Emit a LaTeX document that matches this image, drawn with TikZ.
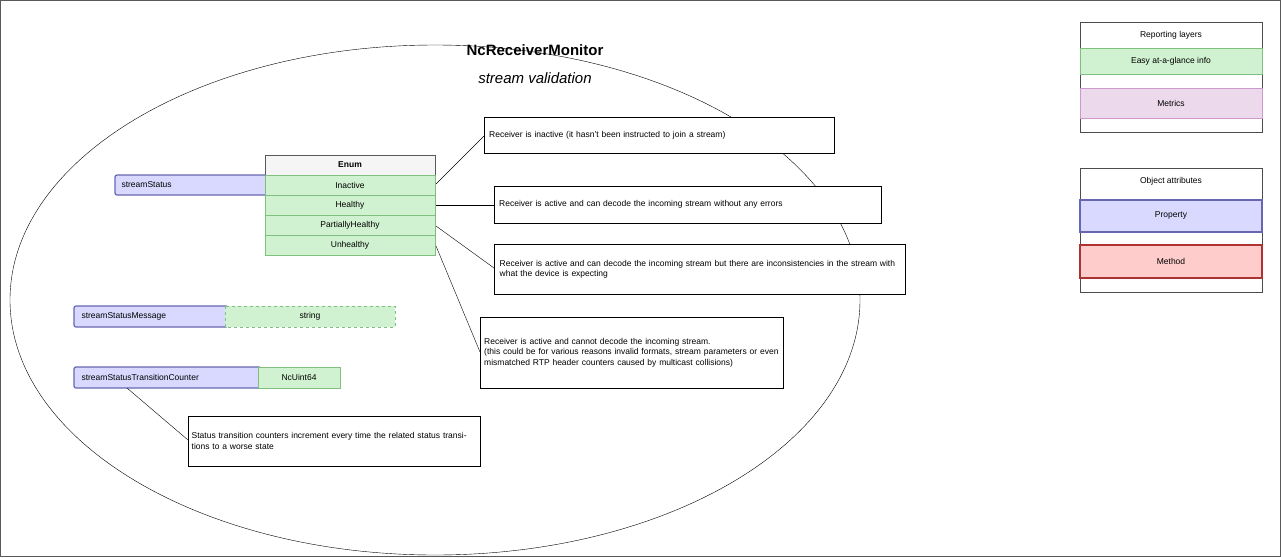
\documentclass[tikz,border=0pt]{standalone}
\usepackage{fontspec}
\setmainfont{Liberation Sans}
\begin{document}
\begin{tikzpicture}[x=1pt,y=-1pt,
  txt/.style={font=\fontsize{8.5}{10.5}\selectfont},
  prop/.style={draw=blue!50!black!60!white,line width=1.2pt,fill=blue!15,rounded corners=2pt},
  green/.style={draw=green!50!black!50!white,fill=green!15!white!90!gray},
  call/.style={draw=black,fill=white,txt,align=left,anchor=north west,inner sep=3pt}]
\useasboundingbox (0,0) rectangle (1281,557);
\draw[gray!70!black] (0.5,0.5) rectangle (1280.5,556.5);
\draw (435,300) ellipse [x radius=425, y radius=255];
\node[font=\bfseries\fontsize{15}{18}\selectfont] (t1) at (535,50) {NcReceiverMonitor};
\node[font=\itshape\fontsize{15}{18}\selectfont] (t2) at (535,78) {stream validation};
% streamStatus
\draw[prop] (115,175) rectangle (268,195);
\node[txt,anchor=west] (ss) at (118,185) {streamStatus};
\draw[gray!70!black,fill=gray!8] (265,155) rectangle (435,175);
\node[txt,font=\bfseries\fontsize{8.5}{10.5}\selectfont] (en) at (350,165) {Enum};
\draw[green] (265,175) rectangle (435,195); \node[txt] (r1) at (350,185) {Inactive};
\draw[green] (265,195) rectangle (435,215); \node[txt] (r2) at (350,205) {Healthy};
\draw[green] (265,215) rectangle (435,235); \node[txt] (r3) at (350,225) {PartiallyHealthy};
\draw[green] (265,235) rectangle (435,255); \node[txt] (r4) at (350,245) {Unhealthy};
% message
\draw[prop] (74,306) rectangle (228,327);
\node[txt,anchor=west] (sm) at (78,316.5) {streamStatusMessage};
\draw[green,dashed] (225,306) rectangle (395,327); \node[txt] (st) at (310,316.5) {string};
% counter
\draw[prop] (74,367) rectangle (261,388);
\node[txt,anchor=west] (sc) at (78,377.5) {streamStatusTransitionCounter};
\draw[green] (258,367) rectangle (340,388); \node[txt] (nu) at (299,377.5) {NcUint64};
% callouts
\node[call,minimum width=350pt,minimum height=36pt,text width=340pt] (a) at (484,117) {Receiver is inactive (it hasn't been instructed to join a stream)};
\node[call,minimum width=387pt,minimum height=37pt,text width=377pt] (b) at (494,186) {Receiver is active and can decode the incoming stream without any errors};
\node[call,minimum width=411pt,minimum height=50pt,text width=400pt] (c) at (494,244) {Receiver is active and can decode the incoming stream but there are inconsistencies in the stream with what the device is expecting};
\node[call,minimum width=303pt,minimum height=71pt,text width=295pt] (d) at (480,317) {Receiver is active and cannot decode the incoming stream.\\(this could be for various reasons invalid formats, stream parameters or even mismatched RTP header counters caused by multicast collisions)};
\node[call,minimum width=292pt,minimum height=50pt,text width=285pt] (e) at (188,416) {Status transition counters increment every time the related status transitions to a worse state};
\coordinate (p1) at (436,184); \coordinate (p2) at (436,205);
\coordinate (p3) at (436,226); \coordinate (p4) at (436,246);
\coordinate (p5) at (127,388);
\draw (p1) -- (a.west |- 0,136) ;
\draw (p2) -- (b.west |- 0,205);
\draw (p3) -- (b.west |- 0,268);
\draw (p4) -- (d.west |- 0,352);
\draw (p5) -- (e.west |- 0,440);
% legends
\draw[gray!60!black,line width=0.8pt] (1080,22) rectangle (1262,132);
\node[txt] (l1) at (1171,35) {Reporting layers};
\draw[green] (1080,48) rectangle (1262,74); \node[txt] (l2) at (1171,61) {Easy at-a-glance info};
\draw[draw=violet!40,fill=violet!15] (1080,88) rectangle (1262,118); \node[txt] (l3) at (1171,103) {Metrics};
\draw[gray!60!black,line width=0.8pt] (1080,168) rectangle (1262,292);
\node[txt] (l4) at (1171,181) {Object attributes};
\draw[draw=blue!50!black!60!white,line width=1.2pt,fill=blue!15] (1080,200) rectangle (1262,232); \node[txt] (l5) at (1171,215) {Property};
\draw[draw=red!60!black!80!white,line width=1.2pt,fill=red!20] (1080,245) rectangle (1262,278); \node[txt] (l6) at (1171,261) {Method};
\end{tikzpicture}
\end{document}
